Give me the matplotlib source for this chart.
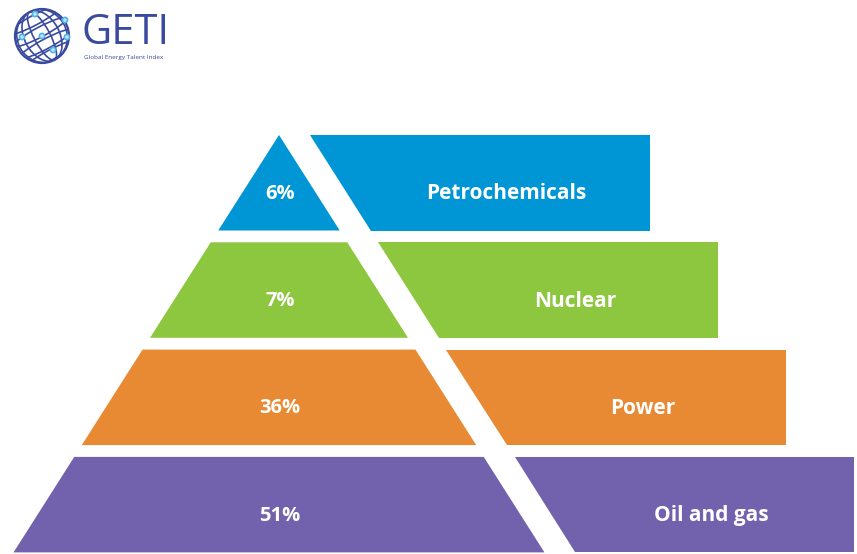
import matplotlib.pyplot as plt
from matplotlib.patches import Polygon, Circle, Ellipse

# Sector shares, top tier of the pyramid first
sectors = ['Petrochemicals', 'Nuclear', 'Power', 'Oil and gas']
shares = [6, 7, 36, 51]
colours = ['#0096d6', '#8dc63f', '#e78a33', '#7261ad']

# layout, in pixels of the output image
W, H = 857, 554
apex_x, apex_y = 279, 135
slope = 0.636        # horizontal run per pixel of drop (both pyramid sides)
gap = 31             # width of the white diagonal band
pitch = 107.3        # distance between tier tops
tier_h = 95.5
right0, right_step = 650, 68

FONT = ['Open Sans', 'DejaVu Sans']
NAVY = '#3a4a9e'

fig = plt.figure(figsize=(W / 100, H / 100), dpi=100)
ax = fig.add_axes([0, 0, 1, 1])
ax.set_xlim(0, W)
ax.set_ylim(H, 0)
ax.axis('off')


def left_x(y):
    return apex_x - slope * (y - apex_y)


def cut_x(y):
    return apex_x + slope * (y - apex_y)


for i, (name, share, col) in enumerate(zip(sectors, shares, colours)):
    top = apex_y + i * pitch
    bot = top + tier_h
    mid = (top + bot) / 2
    right = right0 + i * right_step

    # left part of the pyramid (triangle for the top tier)
    if i == 0:
        pts = [(apex_x, apex_y), (cut_x(bot), bot), (left_x(bot), bot)]
    else:
        pts = [(left_x(top), top), (cut_x(top), top),
               (cut_x(bot), bot), (left_x(bot), bot)]
    ax.add_patch(Polygon(pts, closed=True, facecolor=col, edgecolor='none'))

    # bar on the other side of the diagonal band
    bar = [(cut_x(top) + gap, top), (right, top),
           (right, bot), (cut_x(bot) + gap, bot)]
    ax.add_patch(Polygon(bar, closed=True, facecolor=col, edgecolor='none'))

    ax.text(apex_x + 1, mid + 11, f'{share}%', color='white', fontsize=14.5,
            fontweight='bold', family=FONT, ha='center', va='center')
    ty = mid + 30
    label_x = (cut_x(ty) + gap + right) / 2 + 2
    ax.text(label_x, mid + 11, name, color='white', fontsize=15,
            fontweight='bold', family=FONT, ha='center', va='center')

# GETI logo: wireframe globe plus wordmark
gx, gy, gr = 42, 36, 27
clip = Circle((gx, gy), gr, transform=ax.transData)
ax.add_patch(Circle((gx, gy), gr, fill=False, edgecolor=NAVY, lw=1.6))
for f in [0.3, 0.65, 0.92]:
    e = Ellipse((gx, gy), 2 * gr * f, 2 * gr, angle=-28, fill=False,
                edgecolor=NAVY, lw=1.2)
    ax.add_patch(e)
    e.set_clip_path(clip)
for off in [-16, -4, 8, 19]:
    e = Ellipse((gx + off * 0.45, gy + off), 2 * gr * 1.1, 10, angle=-28,
                fill=False, edgecolor=NAVY, lw=1.2)
    ax.add_patch(e)
    e.set_clip_path(clip)
for nx, ny in [(35, 14), (65, 20), (67, 37), (42, 36), (22, 37), (53, 50)]:
    ax.add_patch(Circle((nx, ny), 2.6, facecolor='#bfe6f8',
                        edgecolor='#4fb3e3', lw=1.2))

ax.text(82, 33, 'GETI', color=NAVY, fontsize=30, family=FONT,
        ha='left', va='center')
ax.text(84, 57, 'Global Energy Talent Index', color=NAVY, fontsize=4.6,
        family=FONT, ha='left', va='center')

fig.savefig('out.png', dpi=100, facecolor='white')
